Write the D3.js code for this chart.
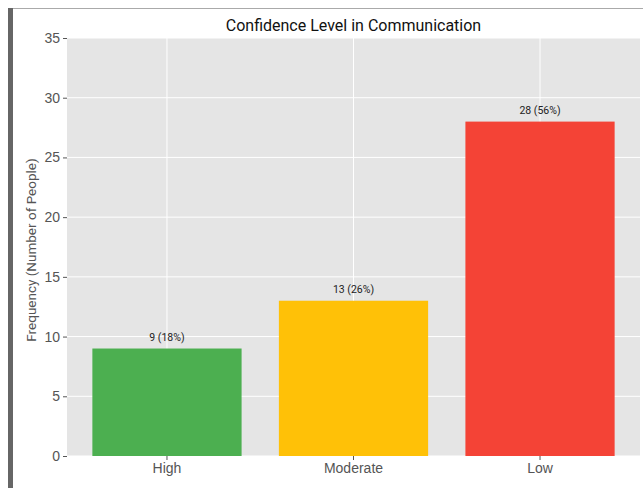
<!DOCTYPE html>
<html>
<head>
    <style>
        body { margin: 0; background: #fff; font-family: Roboto, "Noto Sans", sans-serif; }
        .tick text { fill: #555; font-size: 14px; }
        .tick line { stroke: #555; }
    </style>
    <script src="https://d3js.org/d3.v7.min.js"></script>
</head>
<body>
    <div id="chart"></div>
    <script>
        const categories = ["High", "Moderate", "Low"];
        const counts = [9, 13, 28];
        const labels = ["9 (18%)", "13 (26%)", "28 (56%)"];
        const colors = ["#4CAF50", "#FFC107", "#F44336"];
        const yTicks = [0, 5, 10, 15, 20, 25, 30, 35];

        const W = 643, H = 488;
        const margin = { top: 38, right: 3, bottom: 32, left: 67 };
        const width = W - margin.left - margin.right;
        const height = H - margin.top - margin.bottom;

        const svg = d3.select("#chart").append("svg")
            .attr("width", W)
            .attr("height", H);

        // frame bits from the screenshot
        svg.append("rect").attr("x", 8).attr("y", 8).attr("width", 5).attr("height", H - 8).attr("fill", "#666");
        svg.append("line").attr("x1", 13).attr("x2", W).attr("y1", 8.5).attr("y2", 8.5).attr("stroke", "#aaa");

        const g = svg.append("g").attr("transform", `translate(${margin.left},${margin.top})`);

        const x = d3.scaleBand().domain(categories).range([0, width]).paddingInner(0.2).paddingOuter(0.136);
        const y = d3.scaleLinear().domain([0, 35]).range([height, 0]);

        g.append("rect").attr("width", width).attr("height", height).attr("fill", "#e5e5e5");

        // grid
        g.selectAll(".hgrid").data(yTicks).enter().append("line")
            .attr("x1", 0).attr("x2", width)
            .attr("y1", d => y(d)).attr("y2", d => y(d))
            .attr("stroke", "#fff").attr("stroke-width", 1);
        g.selectAll(".vgrid").data(categories).enter().append("line")
            .attr("x1", d => x(d) + x.bandwidth() / 2).attr("x2", d => x(d) + x.bandwidth() / 2)
            .attr("y1", 0).attr("y2", height)
            .attr("stroke", "#fff").attr("stroke-width", 1);

        // bars
        g.selectAll(".bar").data(categories).enter().append("rect")
            .attr("class", "bar")
            .attr("x", d => x(d))
            .attr("y", (d, i) => y(counts[i]))
            .attr("width", x.bandwidth())
            .attr("height", (d, i) => height - y(counts[i]))
            .attr("fill", (d, i) => colors[i]);

        g.selectAll(".bar-label").data(categories).enter().append("text")
            .attr("x", d => x(d) + x.bandwidth() / 2)
            .attr("y", (d, i) => y(counts[i]) - 8)
            .attr("text-anchor", "middle")
            .attr("font-size", "10.5px")
            .attr("fill", "#222")
            .text((d, i) => labels[i]);

        // axes
        const yAxis = g.append("g").call(d3.axisLeft(y).tickValues(yTicks).tickSize(4).tickPadding(3));
        yAxis.select(".domain").remove();

        const xAxis = g.append("g").attr("transform", `translate(0,${height})`)
            .call(d3.axisBottom(x).tickSize(4).tickPadding(3));
        xAxis.select(".domain").remove();

        g.append("text")
            .attr("transform", "rotate(-90)")
            .attr("x", -height / 2 - 3)
            .attr("y", -31)
            .attr("text-anchor", "middle")
            .attr("font-size", "13.5px")
            .attr("fill", "#555")
            .text("Frequency (Number of People)");

        svg.append("text")
            .attr("x", margin.left + width / 2)
            .attr("y", 31)
            .attr("text-anchor", "middle")
            .attr("font-size", "16px")
            .attr("fill", "#111")
            .text("Confidence Level in Communication");
    </script>
</body>
</html>
